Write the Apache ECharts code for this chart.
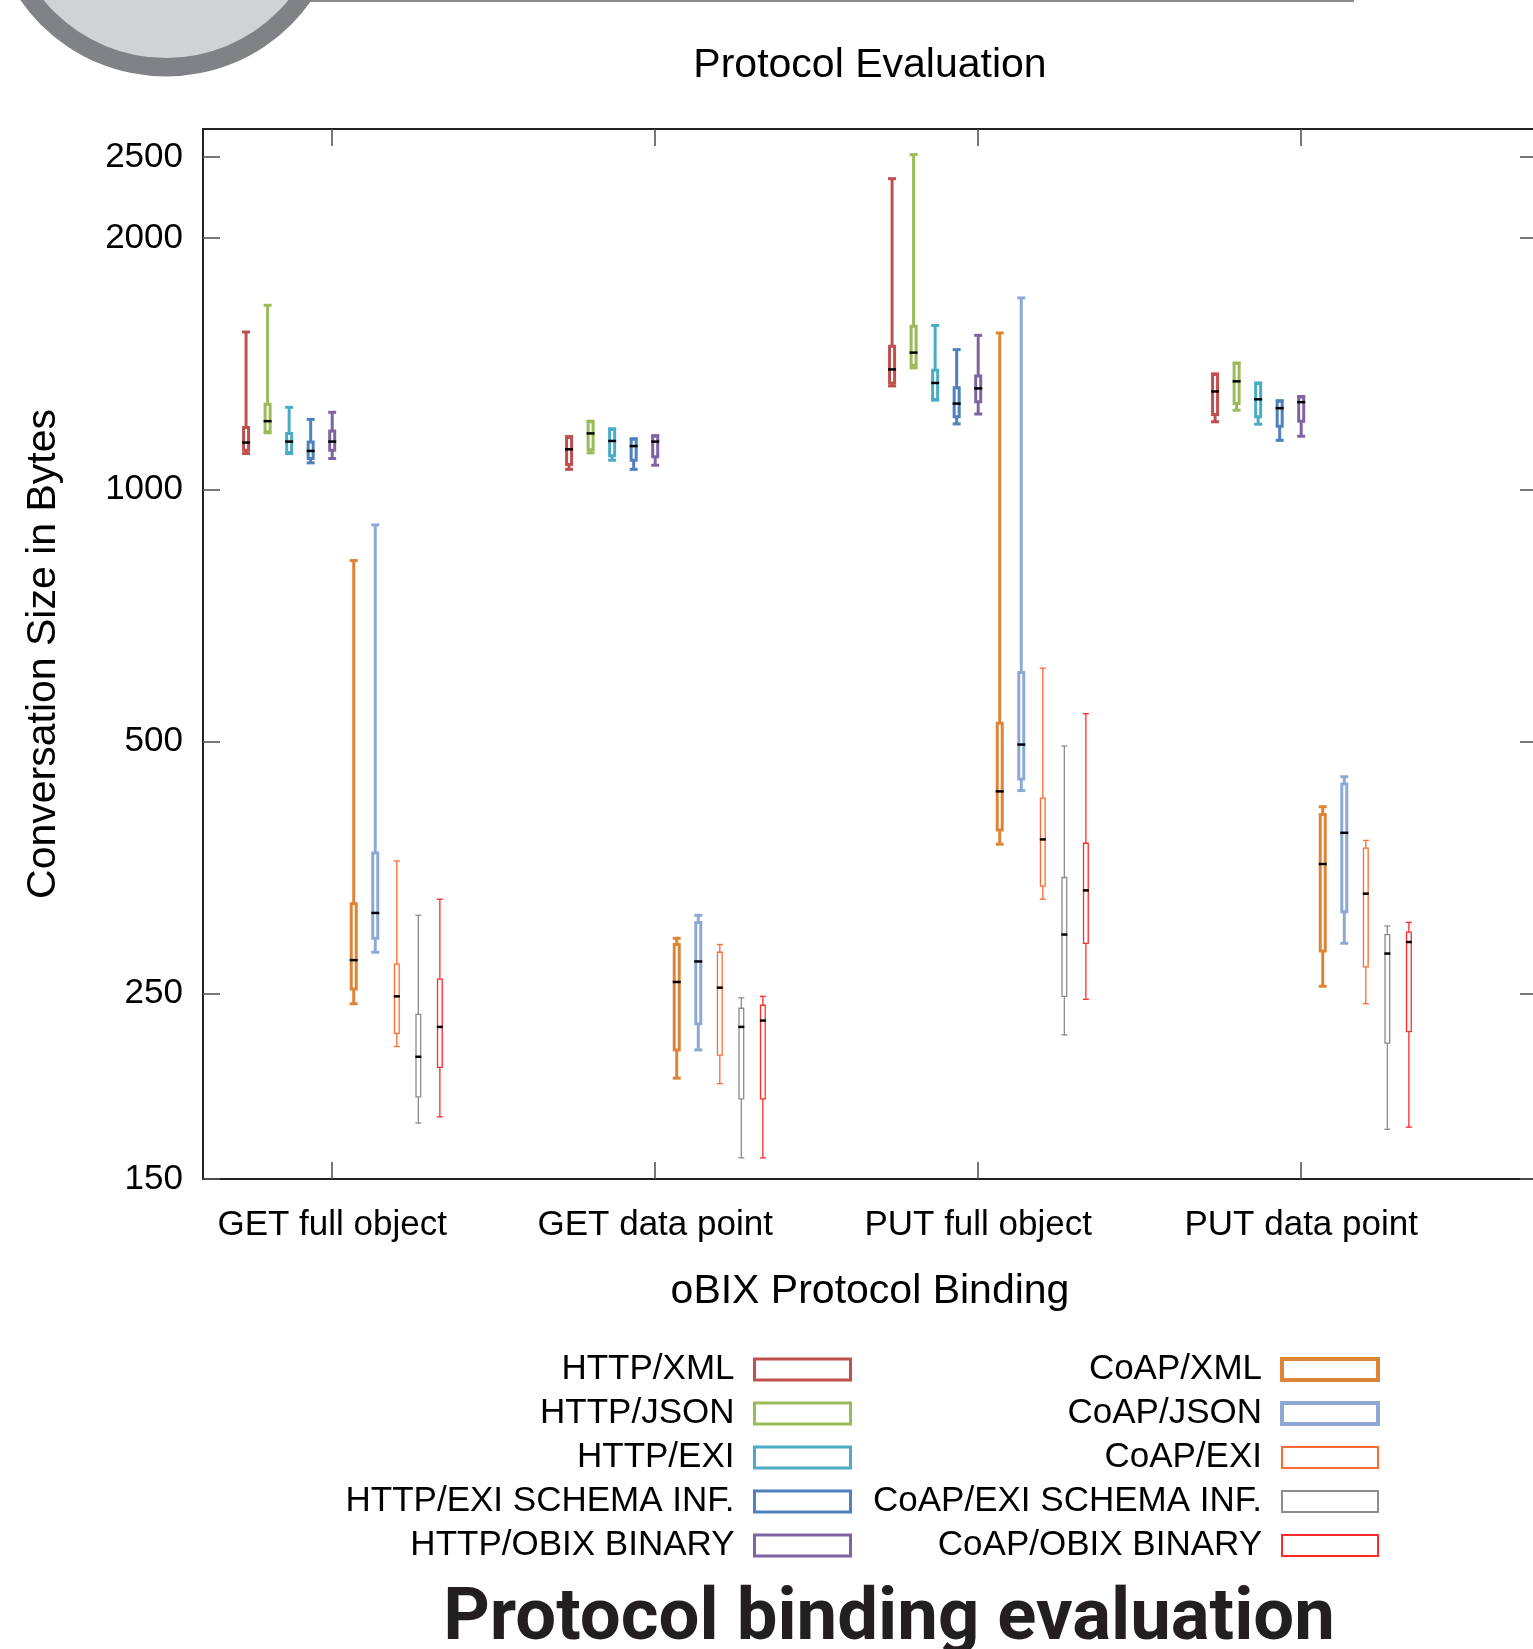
<!DOCTYPE html>
<html>
<head>
<meta charset="utf-8">
<title>Protocol Evaluation</title>
<script src="https://cdn.jsdelivr.net/npm/echarts@6.0.0/dist/echarts.min.js"></script>
<style>
  html, body { margin: 0; padding: 0; background: #fff; }
  #chart { width: 1533px; height: 1649px; }
</style>
</head>
<body>
<div id="chart"></div>
<script>
// box stats per category: [min, q1, median, q3, max]
const categories = ["GET full object", "GET data point", "PUT full object", "PUT data point"];
const yTicks = [150, 250, 500, 1000, 2000, 2500];

const httpXml = [[1105, 1115, 1139, 1187, 1544], [1058, 1072, 1118, 1155, 1158], [1331, 1342, 1393, 1485, 2355], [1206, 1230, 1311, 1374, 1376]];
const httpJson = [[1170, 1173, 1208, 1266, 1662], [1107, 1117, 1168, 1206, 1208], [1399, 1409, 1459, 1569, 2516], [1245, 1268, 1348, 1416, 1418]];
const httpExi = [[1105, 1108, 1142, 1168, 1255], [1085, 1098, 1144, 1181, 1183], [1280, 1282, 1342, 1390, 1572], [1198, 1223, 1283, 1340, 1342]];
const httpExiSchema = [[1077, 1090, 1113, 1141, 1214], [1058, 1085, 1128, 1149, 1151], [1199, 1223, 1268, 1324, 1471], [1146, 1191, 1252, 1276, 1278]];
const httpObix = [[1090, 1115, 1142, 1176, 1238], [1070, 1095, 1142, 1159, 1161], [1232, 1274, 1322, 1368, 1530], [1159, 1208, 1273, 1291, 1293]];
const coapXml = [[243, 253, 274, 320, 823], [198, 214, 258, 286, 291], [377, 392, 436, 526, 1540], [255, 281, 357, 409, 418]];
const coapJson = [[280, 291, 312, 368, 908], [214, 230, 273, 304, 310], [437, 451, 496, 605, 1696], [287, 313, 389, 445, 454]];
const coapExi = [[216, 224, 248, 271, 360], [195, 211, 254, 280, 286], [324, 336, 382, 428, 612], [243, 269, 329, 373, 381]];
const coapExiSchema = [[175, 188, 210, 236, 310], [159, 187, 228, 240, 247], [223, 248, 294, 344, 494], [172, 218, 279, 294, 301]];
const coapObix = [[178, 204, 228, 260, 324], [159, 187, 232, 242, 248], [246, 287, 332, 378, 540], [173, 225, 288, 296, 304]];

const seriesDefs = [
  { name: "HTTP/XML", data: httpXml, color: "#c0504d", lw: 3, w: 8, legendBw: 3 },
  { name: "HTTP/JSON", data: httpJson, color: "#9bbb59", lw: 3, w: 8, legendBw: 3 },
  { name: "HTTP/EXI", data: httpExi, color: "#4bacc6", lw: 3, w: 8, legendBw: 3 },
  { name: "HTTP/EXI SCHEMA INF.", data: httpExiSchema, color: "#4f81bd", lw: 3, w: 8, legendBw: 3 },
  { name: "HTTP/OBIX BINARY", data: httpObix, color: "#8064a2", lw: 3, w: 8, legendBw: 3 },
  { name: "CoAP/XML", data: coapXml, color: "#dd8537", lw: 3, w: 8, legendBw: 4 },
  { name: "CoAP/JSON", data: coapJson, color: "#8eaad4", lw: 3, w: 8, legendBw: 4 },
  { name: "CoAP/EXI", data: coapExi, color: "#ff6a30", lw: 1.3, w: 6, legendBw: 2 },
  { name: "CoAP/EXI SCHEMA INF.", data: coapExiSchema, color: "#8c8c8c", lw: 1.3, w: 6, legendBw: 2 },
  { name: "CoAP/OBIX BINARY", data: coapObix, color: "#ff2a2a", lw: 1.3, w: 6, legendBw: 2 },
];

const FONT = "'Liberation Sans', Arial, Helvetica, sans-serif";

const chart = echarts.init(document.getElementById("chart"), null, { renderer: "canvas" });

function renderBox(params, api) {
  const s = seriesDefs[params.seriesIndex];
  const x = api.value(0);
  const yMin = api.coord([x, api.value(1)])[1];
  const yQ1 = api.coord([x, api.value(2)])[1];
  const yMed = api.coord([x, api.value(3)])[1];
  const yQ3 = api.coord([x, api.value(4)])[1];
  const yMax = api.coord([x, api.value(5)])[1];
  const cx = api.coord([x, api.value(3)])[0];
  const half = s.w / 2;
  const inner = half - s.lw / 2;
  const stroke = { stroke: s.color, lineWidth: s.lw };
  return {
    type: "group",
    children: [
      { type: "line", shape: { x1: cx, y1: yMax, x2: cx, y2: yQ3 }, style: stroke },
      { type: "line", shape: { x1: cx, y1: yQ1, x2: cx, y2: yMin }, style: stroke },
      { type: "line", shape: { x1: cx - half, y1: yMax, x2: cx + half, y2: yMax }, style: stroke },
      { type: "line", shape: { x1: cx - half, y1: yMin, x2: cx + half, y2: yMin }, style: stroke },
      {
        type: "rect",
        shape: { x: cx - inner, y: yQ3, width: inner * 2, height: yQ1 - yQ3 },
        style: { fill: "#fff", stroke: s.color, lineWidth: s.lw },
      },
      { type: "line", shape: { x1: cx - half, y1: yMed, x2: cx + half, y2: yMed }, style: { stroke: "#000", lineWidth: 2.5 } },
    ],
  };
}

const series = seriesDefs.map((s, si) => ({
  name: s.name,
  type: "custom",
  renderItem: renderBox,
  itemStyle: { color: s.color },
  encode: { x: 0, y: [1, 2, 3, 4, 5] },
  // boxes sit side by side around each category, 1/15 unit apart
  data: s.data.map((v, ci) => [ci + 1 + (si - 4) / 15].concat(v)),
  clip: true,
  z: 5,
}));

function legendItems(defs) {
  return defs.map(s => ({
    name: s.name,
    icon: "rect",
    itemStyle: { color: "#fff", borderColor: s.color, borderWidth: s.legendBw },
  }));
}

const legendBase = {
  orient: "vertical",
  align: "right",
  itemWidth: 96,
  itemHeight: 21,
  itemGap: 9,
  padding: 0,
  selectedMode: false,
  formatter: "{t|{name}}",
  textStyle: {
    rich: { t: { fontSize: 35, fontFamily: FONT, color: "#000", padding: [0, 15, 0, 0] } },
  },
};

const tickStyle = { inside: true, length: 17, lineStyle: { color: "#555", width: 1.6 } };

const option = {
  backgroundColor: "#fff",
  animation: false,
  title: [
    {
      text: "Protocol Evaluation",
      left: 870,
      top: 45,
      padding: 0,
      textAlign: "center",
      textStyle: { fontSize: 41, fontWeight: "normal", fontFamily: FONT, color: "#000" },
    },
    {
      text: "Protocol binding evaluation",
      left: 889,
      top: 1584,
      padding: 0,
      textAlign: "center",
      textStyle: { fontSize: 72.5, fontWeight: "bold", fontFamily: "Roboto, 'Open Sans', sans-serif", color: "#231f20" },
    },
  ],
  graphic: [
    { type: "circle", shape: { cx: 166, cy: -100.5, r: 177 }, style: { fill: "#808285" }, z: -1 },
    { type: "circle", shape: { cx: 166, cy: -100.5, r: 158.5 }, style: { fill: "#d1d2d4" }, z: -1 },
    { type: "rect", shape: { x: 310, y: 0, width: 1044, height: 2 }, style: { fill: "#8a8a8c" }, z: -1 },
  ],
  legend: [
    Object.assign({}, legendBase, { right: 681, top: 1352, data: legendItems(seriesDefs.slice(0, 5)) }),
    Object.assign({}, legendBase, { right: 153, top: 1352, data: legendItems(seriesDefs.slice(5)) }),
  ],
  grid: { left: 203, right: -4, top: 129, bottom: 1649 - 1179, containLabel: false, outerBoundsMode: "none" },
  xAxis: [
    {
      type: "value",
      min: 0.6,
      max: 4.73,
      position: "bottom",
      name: "oBIX Protocol Binding",
      nameLocation: "middle",
      nameGap: 92,
      nameTextStyle: { fontSize: 41, fontFamily: FONT, color: "#000" },
      splitLine: { show: false },
      axisLine: { show: true, lineStyle: { color: "#222", width: 2 } },
      axisTick: Object.assign({ customValues: [1, 2, 3, 4] }, tickStyle),
      axisLabel: {
        customValues: [1, 2, 3, 4],
        formatter: v => categories[Math.round(v) - 1],
        fontSize: 35,
        fontFamily: FONT,
        color: "#000",
        margin: 29,
      },
    },
    {
      type: "value",
      min: 0.6,
      max: 4.73,
      position: "top",
      splitLine: { show: false },
      axisLine: { show: true, lineStyle: { color: "#222", width: 2 } },
      axisTick: Object.assign({ customValues: [1, 2, 3, 4] }, tickStyle),
      axisLabel: { show: false },
    },
  ],
  yAxis: [
    {
      type: "log",
      min: 150,
      max: 2700,
      position: "left",
      name: "Conversation Size in Bytes",
      nameLocation: "middle",
      nameGap: 139,
      nameRotate: 90,
      nameTextStyle: { fontSize: 41, fontFamily: FONT, color: "#000" },
      splitLine: { show: false },
      axisLine: { show: true, lineStyle: { color: "#222", width: 2 } },
      axisTick: Object.assign({ customValues: yTicks }, tickStyle),
      axisLabel: {
        customValues: yTicks,
        formatter: v => String(Math.round(v)),
        fontSize: 35,
        fontFamily: FONT,
        color: "#000",
        margin: 20,
      },
    },
    {
      type: "log",
      min: 150,
      max: 2700,
      position: "right",
      splitLine: { show: false },
      axisLine: { show: true, lineStyle: { color: "#222", width: 2 } },
      axisTick: Object.assign({ customValues: yTicks }, tickStyle),
      axisLabel: { show: false },
    },
  ],
  series: series,
};

chart.setOption(option);
</script>
</body>
</html>
